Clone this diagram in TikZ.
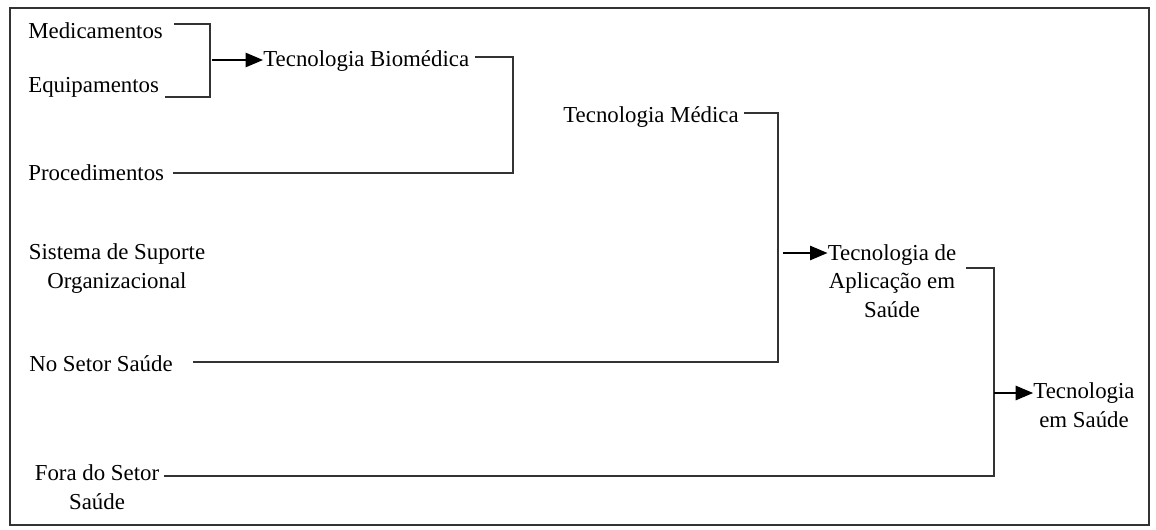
\documentclass[tikz,border=0pt]{standalone}
\usepackage{fontspec}
\setmainfont{Liberation Serif}
\usetikzlibrary{arrows}
\tikzset{txt/.style={inner sep=0pt, anchor=base west, font=\fontsize{13}{16}\selectfont},
  blk/.style={inner sep=0pt, anchor=base, align=center, font=\fontsize{13}{16}\selectfont},
  ln/.style={line width=1pt, black!80},
  arr/.style={line width=1.3pt, -triangle 45}}

\begin{document}
\begin{tikzpicture}[x=0.02cm, y=-0.02cm]
      \useasboundingbox (0, 0) rectangle (1156, 530);
      \draw [line width=0.9pt, black!80] (10, 8) rectangle (1149, 525);

      \node [txt] (med) at (28, 39) {Medicamentos};
      \node [txt] (equip) at (28, 93) {Equipamentos};
      \node [txt] (proc) at (28, 181) {Procedimentos};
      \node [blk] (sis) at (117, 288) {Sistema de Suporte\\Organizacional};
      \node [txt] (nos) at (29, 371) {No Setor Saúde};
      \node [blk] (fora) at (97, 509) {Fora do Setor\\Saúde};

      \node [txt] (biomed) at (263, 67) {Tecnologia Biomédica};
      \node [txt] (medica) at (563, 123) {Tecnologia Médica};
      \node [blk] (aplic) at (892, 317) {Tecnologia de\\Aplicação em\\Saúde};
      \node [blk] (saude) at (1084, 427) {Tecnologia\\em Saúde};

      \coordinate (jBio) at (210, 60);
      \coordinate (jB) at (513, 115);
      \coordinate (jM) at (778, 253);
      \coordinate (jS) at (994, 393);

      \draw [ln] ([shift={(11,-15)}]med.base east) -| (jBio) |- ([shift={(6,4)}]equip.base east);
      \draw [arr] ([shift={(2,0)}]jBio) -- (biomed.base west |- jBio);

      \draw [ln] ([shift={(5,-10)}]biomed.base east) -| (jB) |- ([shift={(9,-8)}]proc.base east);

      \draw [ln] ([shift={(5,-10)}]medica.base east) -| (jM) |- ([shift={(20,-9)}]nos.base east);
      \draw [arr] ([shift={(5,0)}]jM) -- (aplic.base west |- jM);

      \draw [ln] ([shift={(9,-49)}]aplic.base east) -| (jS) |- ([shift={(4,-33)}]fora.base east);
      \draw [arr] (jS) -- (saude.base west |- jS);

    \end{tikzpicture}
\end{document}
